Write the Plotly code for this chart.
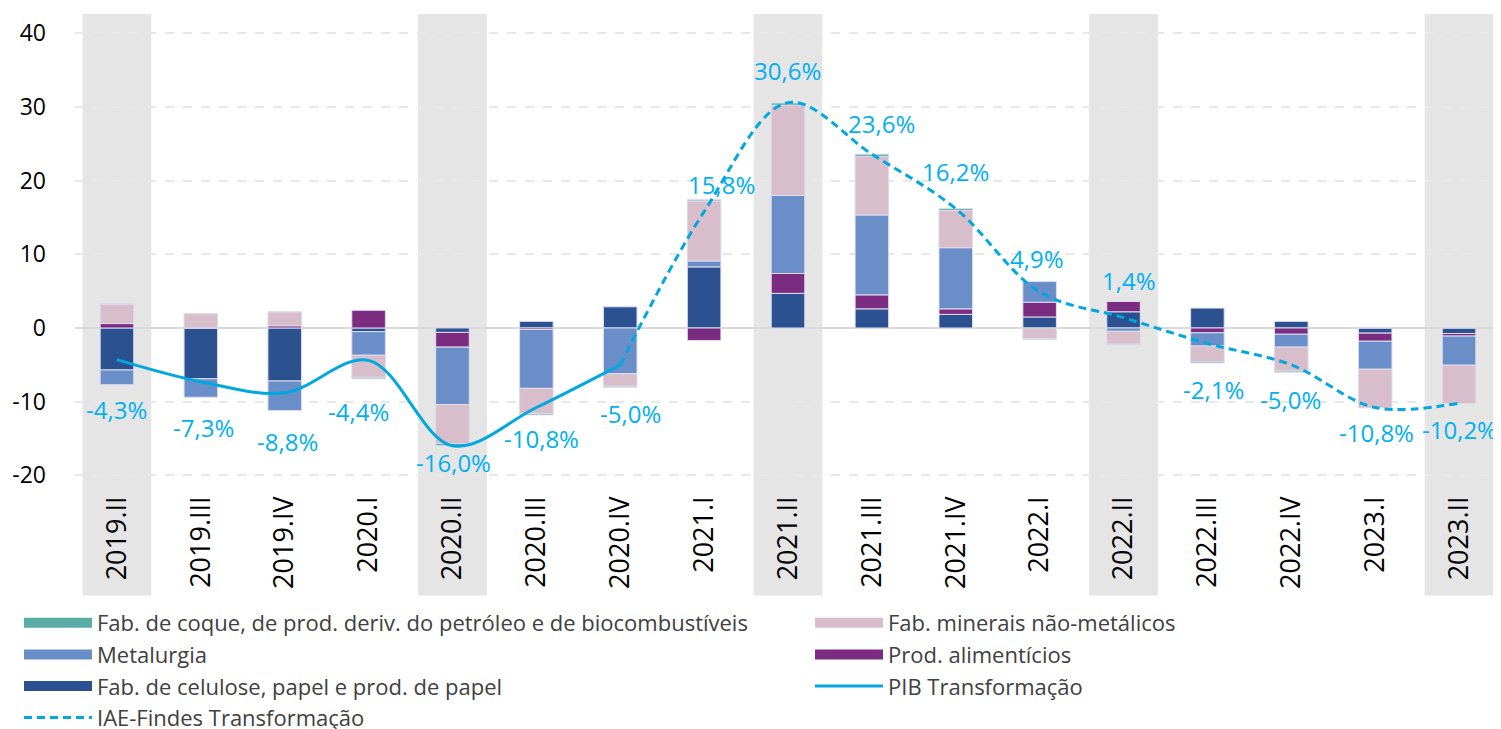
import plotly.graph_objects as go

categories = ["2019.II", "2019.III", "2019.IV", "2020.I", "2020.II", "2020.III", "2020.IV",
              "2021.I", "2021.II", "2021.III", "2021.IV", "2022.I", "2022.II", "2022.III",
              "2022.IV", "2023.I", "2023.II"]

celulose = [-5.7, -6.9, -7.2, -0.5, -0.6, 0.9, 2.9, 8.3, 4.7, 2.6, 1.85, 1.5, 2.2, 2.7, 0.9, -0.7, -0.75]
alimenticios = [0.6, 0.0, 0.3, 2.4, -2.0, -0.2, 0.0, -1.7, 2.7, 1.9, 0.75, 2.0, 1.4, -0.65, -0.85, -1.1, -0.35]
metalurgia = [-2.0, -2.5, -4.0, -3.2, -7.8, -8.0, -6.2, 0.8, 10.6, 10.85, 8.3, 2.8, -0.45, -1.8, -1.75, -3.8, -3.95]
minerais = [2.6, 1.95, 1.9, -3.0, -5.3, -3.4, -1.7, 8.15, 12.25, 7.95, 5.05, -1.45, -1.75, -2.15, -3.25, -5.25, -5.2]
coque = [0.1, 0.0, 0.0, -0.2, -0.3, -0.2, -0.15, 0.15, 0.3, 0.3, 0.25, -0.1, -0.1, -0.15, -0.15, 0.0, 0.0]

pib = [-4.3, -7.3, -8.8, -4.4, -16.0, -10.8, -5.0] + [None] * 10
iae = [None] * 6 + [-5.0, 15.8, 30.6, 23.6, 16.2, 4.9, 1.4, -2.1, -5.0, -10.8, -10.2]

pib_labels = ["-4,3%", "-7,3%", "-8,8%", "-4,4%", "-16,0%", "-10,8%", "-5,0%"] + [None] * 10
iae_labels = [None] * 7 + ["15,8%", "30,6%", "23,6%", "16,2%", "4,9%", "1,4%", "-2,1%", "-5,0%", "-10,8%", "-10,2%"]

y_tick_values = [-20, -10, 0, 10, 20, 30, 40]
y_tick_labels = ["-20", "-10", "0", "10", "20", "30", "40"]

highlight_idx = [0, 4, 8, 12, 16]

names = {
    "coque": "Fab. de coque, de prod. deriv. do petróleo e de biocombustíveis",
    "minerais": "Fab. minerais não-metálicos",
    "metalurgia": "Metalurgia",
    "alimenticios": "Prod. alimentícios",
    "celulose": "Fab. de celulose, papel e prod. de papel",
    "pib": "PIB Transformação",
    "iae": "IAE-Findes Transformação",
}
colors = {
    "coque": "#5aaca7",
    "minerais": "#d8bdcb",
    "metalurgia": "#6a8ec8",
    "alimenticios": "#7b2c80",
    "celulose": "#2b5190",
}
LINE_C = "#00a8de"
LABEL_C = "#00b0f0"
FONT = "Open Sans"
W, H = 1493, 721

fig = go.Figure()

series = [("celulose", celulose), ("alimenticios", alimenticios), ("metalurgia", metalurgia),
          ("minerais", minerais), ("coque", coque)]
for key, vals in series:
    fig.add_trace(go.Bar(
        x=categories, y=vals, name=names[key], legendgroup=key, showlegend=False,
        marker=dict(color=colors[key], line=dict(color="#dedcec", width=1)),
        width=0.4,
    ))

fig.add_trace(go.Scatter(
    x=categories, y=pib, mode="lines", name=names["pib"], legendgroup="pib",
    line=dict(color=LINE_C, width=3, shape="spline", smoothing=1.0),
    legend="legend2", legendrank=3,
))
fig.add_trace(go.Scatter(
    x=categories, y=iae, mode="lines", name=names["iae"], legendgroup="iae",
    line=dict(color=LINE_C, width=3, dash="8px,5px", shape="spline", smoothing=1.0),
    legend="legend", legendrank=4,
))

# legend entries (wide rectangles) for the stacked series
legend_map = {"coque": ("legend", 1), "metalurgia": ("legend", 2), "celulose": ("legend", 3),
              "minerais": ("legend2", 1), "alimenticios": ("legend2", 2)}
for key, (lg, rank) in legend_map.items():
    fig.add_trace(go.Scatter(
        x=[None], y=[None], mode="lines", name=names[key], legendgroup=key,
        line=dict(color=colors[key], width=14), legend=lg, legendrank=rank,
        hoverinfo="skip",
    ))

# highlighted quarters
for i in highlight_idx:
    fig.add_shape(type="rect", xref="x", yref="paper", x0=i - 0.41, x1=i + 0.41,
                  y0=-0.222, y1=1.002, fillcolor="#e5e5e5", line=dict(width=0), layer="below")

# data labels
pib_off = [(0, -50), (3, -46), (3, -49), (-10, -51), (1, -17), (5, -31), (10, -49)]
iae_off = [(17, 27), (-1, 32), (10, 31), (0, 37), (-3, 33), (5, 37), (6, -46), (-1, -35), (1, -25), (0, -26)]
j = 0
for i, t in enumerate(pib_labels):
    if t is not None:
        dx, dy = pib_off[j]; j += 1
        fig.add_annotation(x=categories[i], y=pib[i], text=t, showarrow=False,
                           xshift=dx, yshift=dy, font=dict(color=LABEL_C, size=24, family=FONT))
j = 0
for i, t in enumerate(iae_labels):
    if t is not None:
        dx, dy = iae_off[j]; j += 1
        fig.add_annotation(x=categories[i], y=iae[i], text=t, showarrow=False,
                           xshift=dx, yshift=dy, font=dict(color=LABEL_C, size=24, family=FONT))

legend_common = dict(
    xref="container", yref="container", xanchor="left", yanchor="top",
    orientation="v", font=dict(size=22, family=FONT, color="#404040"),
    bgcolor="rgba(0,0,0,0)", itemwidth=68, tracegroupgap=0, traceorder="normal",
    itemclick=False, itemdoubleclick=False,
)
fig.update_layout(
    width=W, height=H,
    margin=dict(l=67, r=0, t=7, b=239, autoexpand=False),
    paper_bgcolor="white", plot_bgcolor="white",
    barmode="relative",
    font=dict(family=FONT, color="#000000"),
    legend=dict(x=11 / W, y=1 - 594 / H, **legend_common),
    legend2=dict(x=802 / W, y=1 - 594 / H, **legend_common),
    showlegend=True,
)
fig.update_xaxes(
    type="category", range=[-0.5, 16.5], tickangle=-90,
    tickfont=dict(size=27, family=FONT, color="#000000"),
    showgrid=False, showline=False, ticks="",
)
fig.update_yaxes(
    range=[-22, 42.5], tickvals=y_tick_values, ticktext=y_tick_labels,
    tickfont=dict(size=23, family=FONT, color="#000000"),
    showgrid=True, gridcolor="#e8e8e8", griddash="dash", gridwidth=1.5,
    zeroline=True, zerolinecolor="#d9d9d9", zerolinewidth=2,
    showline=False, ticks="", ticklabelstandoff=28,
)

fig.write_html("out.html")
